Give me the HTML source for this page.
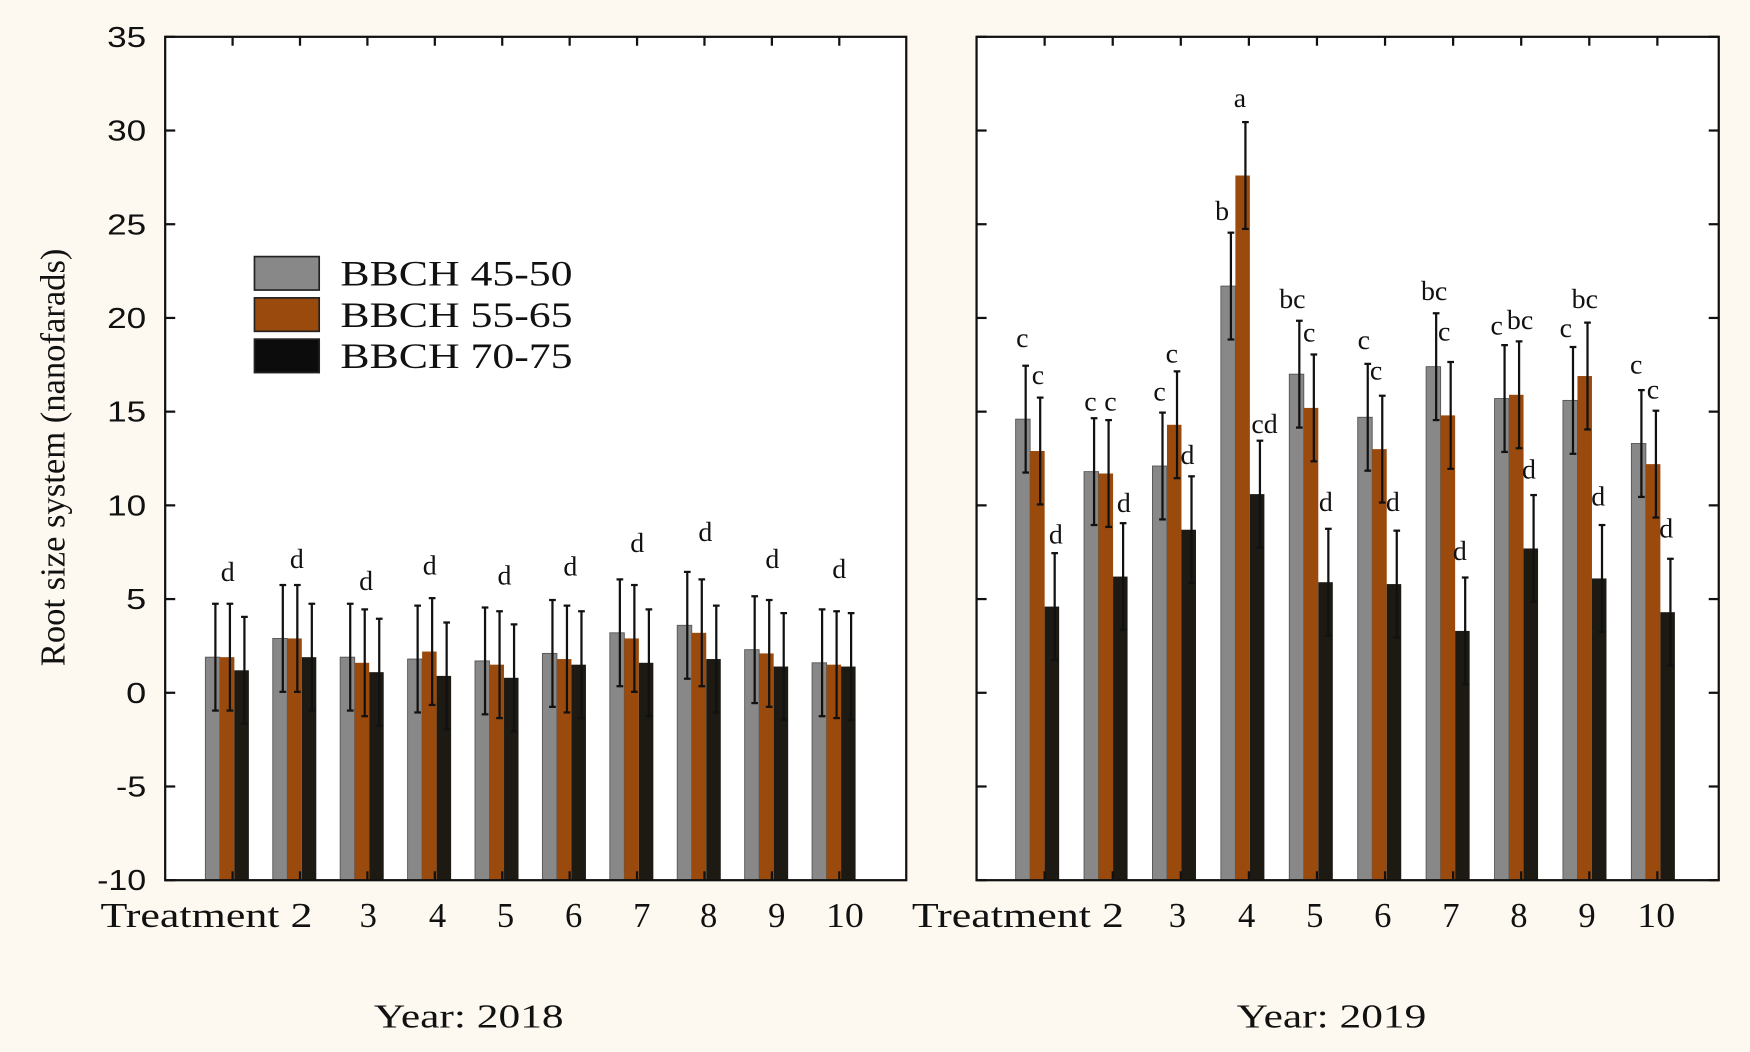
<!DOCTYPE html>
<html><head><meta charset="utf-8">
<style>
html,body{margin:0;padding:0;background:#fdf9f0;}
svg{display:block;}
text{font-family:"Liberation Serif",serif;fill:#111;}
.num{font-family:"Liberation Sans",sans-serif;}
</style></head>
<body>
<svg id="s" width="1750" height="1052" viewBox="0 0 1568 943" preserveAspectRatio="none" xmlns="http://www.w3.org/2000/svg">
<rect x="0" y="0" width="1568" height="943" fill="#fdf9f0"/>
<rect x="148" y="33" width="664" height="756" fill="#fff"/>
<rect x="875" y="33" width="665" height="756" fill="#fff"/>
<g id="bars"></g>
<rect x="148" y="33" width="664" height="756" fill="none" stroke="#111" stroke-width="2"/>
<rect x="875" y="33" width="665" height="756" fill="none" stroke="#111" stroke-width="2"/>
<g id="ticks" stroke="#111" stroke-width="2"></g>
<g font-size="26" text-anchor="end">
<text class="num" x="131" y="42" textLength="35" lengthAdjust="spacingAndGlyphs">35</text>
<text class="num" x="131" y="126" textLength="35" lengthAdjust="spacingAndGlyphs">30</text>
<text class="num" x="131" y="210" textLength="35" lengthAdjust="spacingAndGlyphs">25</text>
<text class="num" x="131" y="294" textLength="35" lengthAdjust="spacingAndGlyphs">20</text>
<text class="num" x="131" y="378" textLength="35" lengthAdjust="spacingAndGlyphs">15</text>
<text class="num" x="131" y="462" textLength="35" lengthAdjust="spacingAndGlyphs">10</text>
<text class="num" x="131" y="546" textLength="18" lengthAdjust="spacingAndGlyphs">5</text>
<text class="num" x="131" y="630" textLength="18" lengthAdjust="spacingAndGlyphs">0</text>
<text class="num" x="131" y="714" textLength="27" lengthAdjust="spacingAndGlyphs">-5</text>
<text class="num" x="131" y="798" textLength="44" lengthAdjust="spacingAndGlyphs">-10</text>
</g>
<text x="0" y="0" font-size="31" text-anchor="middle" transform="translate(58,410) rotate(-90)">Root size system (nanofarads)</text>
<g font-size="31" text-anchor="middle">
<text x="185" y="831" textLength="190" lengthAdjust="spacingAndGlyphs">Treatment 2</text>
<text x="330" y="831">3</text><text x="392" y="831">4</text><text x="453" y="831">5</text>
<text x="514" y="831">6</text><text x="575" y="831">7</text><text x="635" y="831">8</text>
<text x="696" y="831">9</text><text x="757" y="831" textLength="34" lengthAdjust="spacingAndGlyphs">10</text>
<text x="912" y="831" textLength="190" lengthAdjust="spacingAndGlyphs">Treatment 2</text>
<text x="1055" y="831">3</text><text x="1117" y="831">4</text><text x="1178" y="831">5</text>
<text x="1239" y="831">6</text><text x="1300" y="831">7</text><text x="1361" y="831">8</text>
<text x="1422" y="831">9</text><text x="1484" y="831" textLength="34" lengthAdjust="spacingAndGlyphs">10</text>
</g>
<g font-size="30" text-anchor="middle">
<text x="420" y="921" textLength="170" lengthAdjust="spacingAndGlyphs">Year: 2018</text>
<text x="1193" y="921" textLength="170" lengthAdjust="spacingAndGlyphs">Year: 2019</text>
</g>
<g>
<rect x="228" y="230" width="58" height="30" fill="#888" stroke="#222" stroke-width="1.5"/>
<rect x="228" y="267" width="58" height="30" fill="#9a4a0c" stroke="#222" stroke-width="1.5"/>
<rect x="228" y="304" width="58" height="30" fill="#0c0c0c" stroke="#222" stroke-width="1.5"/>
<text x="305" y="256" font-size="32" textLength="208" lengthAdjust="spacingAndGlyphs">BBCH 45-50</text>
<text x="305" y="293" font-size="32" textLength="208" lengthAdjust="spacingAndGlyphs">BBCH 55-65</text>
<text x="305" y="330" font-size="32" textLength="208" lengthAdjust="spacingAndGlyphs">BBCH 70-75</text>
</g>
<g font-size="25" text-anchor="middle">
<text x="204" y="521">d</text><text x="266" y="509">d</text><text x="328" y="529">d</text>
<text x="385" y="515">d</text><text x="452" y="524">d</text><text x="511" y="516">d</text>
<text x="571" y="495">d</text><text x="632" y="485">d</text><text x="692" y="509">d</text>
<text x="752" y="518">d</text>
<text x="916" y="311">c</text><text x="930" y="344">c</text><text x="946" y="487">d</text>
<text x="977" y="368">c</text><text x="995" y="368">c</text><text x="1007" y="459">d</text>
<text x="1039" y="359">c</text><text x="1050" y="325">c</text><text x="1064" y="416">d</text>
<text x="1095" y="197">b</text><text x="1111" y="96">a</text><text x="1133" y="388">cd</text>
<text x="1158" y="276">bc</text><text x="1173" y="306">c</text><text x="1188" y="458">d</text>
<text x="1222" y="313">c</text><text x="1233" y="340">c</text><text x="1248" y="458">d</text>
<text x="1285" y="269">bc</text><text x="1294" y="305">c</text><text x="1308" y="502">d</text>
<text x="1341" y="300">c</text><text x="1362" y="295">bc</text><text x="1370" y="429">d</text>
<text x="1403" y="302">c</text><text x="1420" y="276">bc</text><text x="1432" y="453">d</text>
<text x="1466" y="335">c</text><text x="1481" y="357">c</text><text x="1493" y="482">d</text>
</g>
</svg>
<script>
(function(){
var NS="http://www.w3.org/2000/svg";
var bars=document.getElementById("bars"),ticks=document.getElementById("ticks");
function Y(v){return 621-v*16.8;}
function el(p,t,a){var e=document.createElementNS(NS,t);for(var k in a)e.setAttribute(k,a[k]);p.appendChild(e);return e;}
var L=[[1.9,1.9,1.2],[2.9,2.9,1.9],[1.9,1.6,1.1],[1.8,2.2,0.9],[1.7,1.5,0.8],[2.1,1.8,1.5],[3.2,2.9,1.6],[3.6,3.2,1.8],[2.3,2.1,1.4],[1.6,1.5,1.4]];
var R=[[14.6,12.9,4.6],[11.8,11.7,6.2],[12.1,14.3,8.7],[21.7,27.6,10.6],[17.0,15.2,5.9],[14.7,13.0,5.8],[17.4,14.8,3.3],[15.7,15.9,7.7],[15.6,16.9,6.1],[13.3,12.2,4.3]];
var cols=["#888888","#9a4a0c","#1c1a12"];
function draw(data,c0,step,err){
 for(var i=0;i<10;i++){
  var c=c0+step*i;
  for(var j=0;j<3;j++){
   var x=c-19+j*13,v=data[i][j];
   el(bars,"rect",{x:x,y:Y(v),width:13,height:789-Y(v),fill:cols[j],stroke:j==0?"#555":"none","stroke-width":0.8});
  }
  for(var j=0;j<3;j++){
   var x=c-19+j*13+9,v=data[i][j],e=err;
   el(bars,"line",{x1:x,x2:x,y1:Y(v+e),y2:Y(v-e),stroke:"#111","stroke-width":2});
   el(bars,"line",{x1:x-3,x2:x+3,y1:Y(v+e),y2:Y(v+e),stroke:"#111","stroke-width":2});
   el(bars,"line",{x1:x-3,x2:x+3,y1:Y(v-e),y2:Y(v-e),stroke:"#111","stroke-width":2});
  }
 }
}
draw(L,203,60.4,2.85);
draw(R,929,61.3,2.85);
for(var v=-10;v<=35;v+=5){
 var y=Y(v);
 el(ticks,"line",{x1:148,x2:157,y1:y,y2:y});
 el(ticks,"line",{x1:875,x2:884,y1:y,y2:y});
 el(ticks,"line",{x1:1531,x2:1540,y1:y,y2:y});
}
for(var i=1;i<=10;i++){
 var x=148+60.4*i;el(ticks,"line",{x1:x,x2:x,y1:33,y2:41});el(ticks,"line",{x1:x,x2:x,y1:781,y2:789});
 x=875+61*i;el(ticks,"line",{x1:x,x2:x,y1:33,y2:41});el(ticks,"line",{x1:x,x2:x,y1:781,y2:789});
}
})();
</script>
</body></html>
